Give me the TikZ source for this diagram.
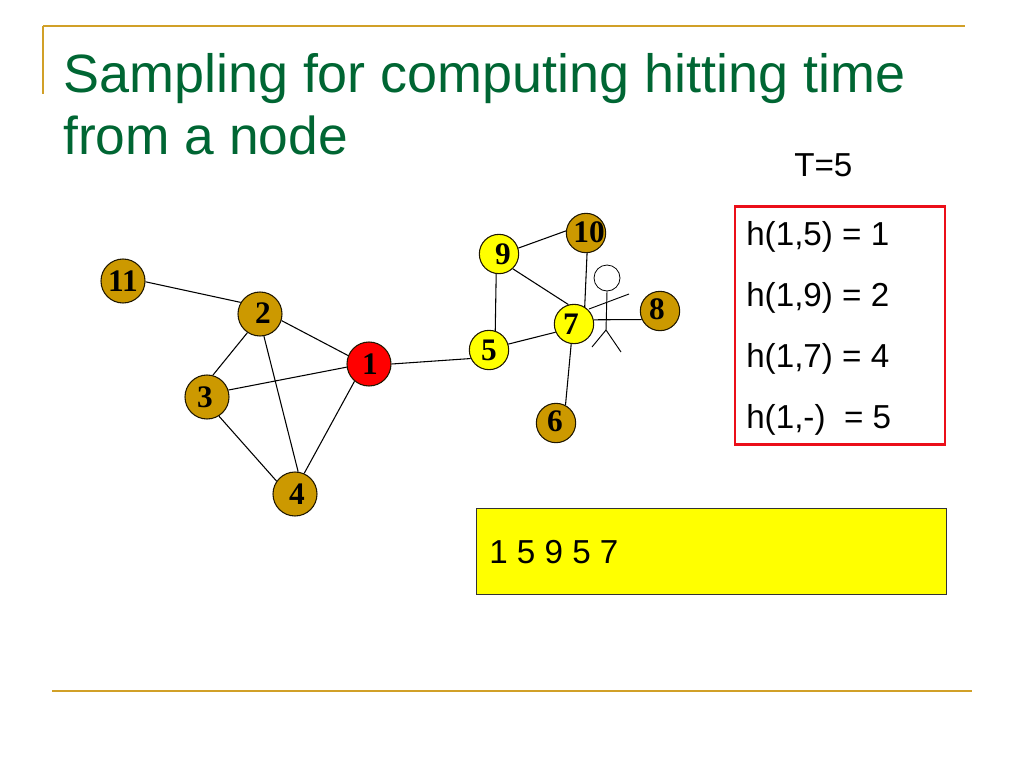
\documentclass[tikz,border=0pt]{standalone}
\usepackage{fontspec}
\setmainfont{Liberation Sans}
\newfontfamily\numfont{Liberation Serif}
\definecolor{gold}{RGB}{204,153,0}
\definecolor{rulegold}{RGB}{209,160,40}
\definecolor{titlegreen}{RGB}{0,102,51}
\definecolor{boxred}{RGB}{235,15,25}
\definecolor{pureyellow}{RGB}{255,255,0}
\definecolor{purered}{RGB}{255,0,0}
% digit placed off the node's centre, offsets in pixels of the reference (right, up)
\newcommand\digits[3]{\makebox[0pt][c]{\hspace*{\dimexpr#1pt*3/2\relax}\raisebox{\dimexpr#2pt*3/4\relax}{#3}}}
\tikzset{
 gnode/.style={circle,draw=black!85!gold,line width=0.8pt,inner sep=0pt,font=\numfont\bfseries\fontsize{23.5}{24}\selectfont},
 bignode/.style={gnode,minimum size=33pt},
 smallnode/.style={gnode,minimum size=29.5pt},
 edge/.style={draw=black,line width=0.8pt},
 rulel/.style={draw=rulegold,line width=1.5pt},
 label/.style={anchor=base west,inner sep=0pt,font=\fontsize{24.9}{25}\selectfont},
 titletext/.style={anchor=base west,inner sep=0pt,text=titlegreen,font=\fontsize{40.45}{41}\selectfont},
}
\begin{document}
\begin{tikzpicture}[x=0.75pt,y=-0.75pt]
\useasboundingbox (0,0) rectangle (1024,768);
\coordinate (r1) at (43,26); \coordinate (r2) at (965,26); \coordinate (r3) at (43,94);
\coordinate (r4) at (52,691); \coordinate (r5) at (972,691);
\draw[rulel] (r1) -- (r2);
\draw[rulel] (r1) -- (r3);
\draw[rulel] (r4) -- (r5);
\node[titletext] (t1) at (63,92) {Sampling for computing hitting time};
\node[titletext,font=\fontsize{40}{41}\selectfont] (t2) at (63,154) {from a node};
\node[label] (tt) at (794,176) {T=5};
% stick figure
\coordinate (hip) at (606,330);
\coordinate (la) at (589,309); \coordinate (ra) at (629,294);
\coordinate (ll) at (592,347); \coordinate (rl) at (621,352);
\node[circle,draw=black,line width=0.6pt,minimum size=19.5pt,inner sep=0pt] (head) at (607,278) {};
\draw[edge,line width=0.7pt] (head.south) -- (hip);
\draw[edge,line width=0.7pt] (la) -- (ra);
\draw[edge,line width=0.7pt] (ll) -- (hip) -- (rl);
% nodes
\node[bignode,fill=gold] (n11) at (123,281) {\digits{0}{0}{11}};
\node[bignode,fill=gold] (n2) at (260,314) {\digits{3}{2}{2}};
\node[bignode,fill=purered] (n1) at (369,364) {\digits{1}{-1}{1}};
\node[bignode,fill=gold] (n3) at (207,397) {\digits{-2}{-2}{3}};
\node[bignode,fill=gold] (n4) at (295,494) {\digits{2}{-2}{4}};
\node[smallnode,fill=pureyellow] (n5) at (489,350) {\digits{0}{-1}{5}};
\node[smallnode,fill=pureyellow] (n9) at (499,254) {\digits{4}{-1}{9}};
\node[smallnode,fill=gold] (n10) at (586,233) {\digits{3}{2}{10}};
\node[smallnode,fill=pureyellow] (n7) at (574,324) {\digits{-3}{0}{7}};
\node[smallnode,fill=gold] (n8) at (660,311) {\digits{-3}{3}{8}};
\node[smallnode,fill=gold] (n6) at (556,423) {\digits{-1}{3}{6}};
% edges
\draw[edge] (n11.-2) -- (n2.149);
\draw[edge] (n2.-17) -- (n1.158);
\draw[edge] (n2.236) -- (n3.75);
\draw[edge] (n2.-80) -- (n4.82);
\draw[edge] (n3.18) -- (n1.188);
\draw[edge] (n3.-58) -- (n4.145);
\draw[edge] (n1.230) -- (n4.66);
\draw[edge] (n1.0) -- (n5.205);
\draw[edge] (n5.72) -- (n9.262);
\draw[edge] (n9.17) -- (n10.174);
\draw[edge] (n9.-47) -- (n7.106);
\draw[edge] (n5.17) -- (n7.204);
\draw[edge] (n10.-87) -- (n7.58);
\draw[edge] (n7.12) -- (n8.205);
\draw[edge] (n7.262) -- (n6.62);
% boxes
\node[draw=boxred,line width=2.1pt,minimum width=157.5pt,minimum height=179pt,inner sep=0pt] (rb) at (840,325.5) {};
\node[label] (h1) at (746,245) {h(1,5) = 1};
\node[label] (h2) at (746,306) {h(1,9) = 2};
\node[label] (h3) at (746,367) {h(1,7) = 4};
\node[label] (h4) at (746,428) {h(1,-)\ \ = 5};
\node[draw=black!80,fill=pureyellow,line width=0.6pt,minimum width=352.5pt,minimum height=65pt,inner sep=0pt] (yb) at (711,551.5) {};
\node[label] (seq) at (489,563) {1 5 9 5 7};
\end{tikzpicture}
\end{document}
